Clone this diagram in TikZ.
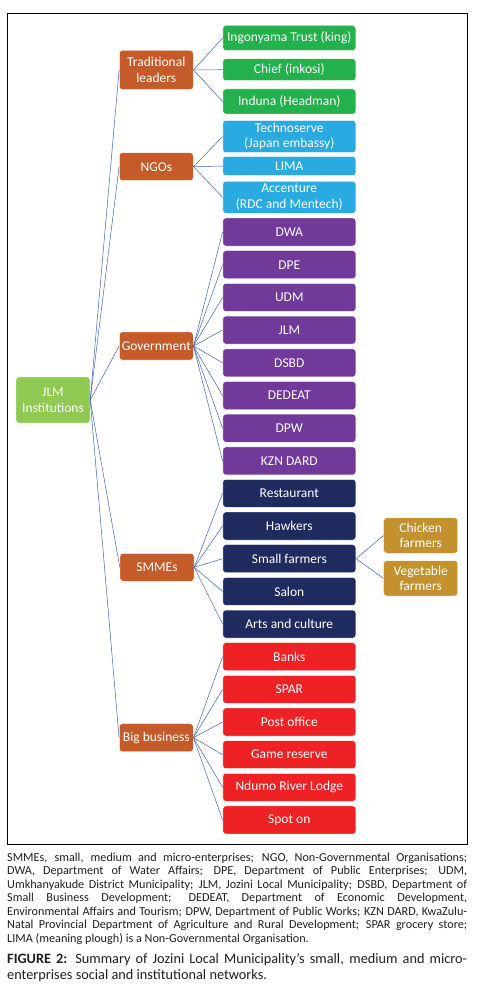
\documentclass[tikz,border=0pt]{standalone}
\usepackage{fontspec}
\setmainfont{Carlito}
\definecolor{rootgreen}{HTML}{8FC951}
\definecolor{catorange}{HTML}{C55B28}
\definecolor{leafgreen}{HTML}{22B14C}
\definecolor{leafblue}{HTML}{29ABE2}
\definecolor{leafpurple}{HTML}{70399A}
\definecolor{leafnavy}{HTML}{1F2A5E}
\definecolor{leafred}{HTML}{EE2124}
\definecolor{leafgold}{HTML}{C3922E}
\definecolor{linkblue}{HTML}{3F64B4}
\definecolor{captext}{HTML}{231F20}

\begin{document}
\begin{tikzpicture}[x=1pt,y=-1pt,
  box/.style={rounded corners=3pt,draw=white,line width=0.4pt,text=white,align=center,inner sep=0pt,font=\fontsize{13.5}{15.5}\selectfont},
  cat/.style={box,fill=catorange,minimum width=74pt,minimum height=28pt},
  leaf/.style={box,minimum width=133pt,minimum height=28pt},
  link/.style={draw=linkblue,line width=0.5pt}]
\useasboundingbox (0,0) rectangle (480,987);
\draw[line width=0.8pt] (7,13.5) rectangle (467,844);

\node[box,fill=rootgreen,minimum width=74pt,minimum height=46pt] (jlm) at (53,400) {JLM\\Institutions};
\node[cat,minimum height=39pt] (trad) at (156.3,70) {Traditional\\leaders};
\node[cat] (ngo) at (156.3,166.7) {NGOs};
\node[cat] (gov) at (156.3,346) {Government};
\node[cat] (smme) at (157,567.3) {SMMEs};
\node[cat] (big) at (156.3,737.7) {Big business};
\foreach \c in {trad,ngo,gov,smme,big}{\draw[link] (jlm.east)--(\c.west);}

\foreach \n/\y/\h/\t in {ing/38/25/{Ingonyama Trust (king)},chief/69.7/22/{Chief (inkosi)},induna/101.5/25/{Induna (Headman)}}{
  \node[leaf,fill=leafgreen,minimum height=\h pt] (\n) at (289.3,\y) {\t};
  \draw[link] (trad.east)--(\n.west);}
\foreach \n/\y/\h/\t in {techno/136.5/32.3/{Technoserve\\(Japan embassy)},lima/166/19.3/{LIMA},accent/197.3/32/{Accenture\\(RDC and Mentech)}}{
  \node[leaf,fill=leafblue,minimum height=\h pt] (\n) at (289.3,\y) {\t};
  \draw[link] (ngo.east)--(\n.west);}
\foreach \t [count=\i from 0] in {DWA,DPE,UDM,JLM,DSBD,DEDEAT,DPW,KZN DARD}{
  \node[leaf,fill=leafpurple] (gov\i) at (289.3,{232+32.7*\i}) {\t};
  \draw[link] (gov.east)--(gov\i.west);}
\foreach \n/\t [count=\i from 0] in {rest/Restaurant,hawk/Hawkers,farm/Small farmers,salon/Salon,arts/Arts and culture}{
  \node[leaf,fill=leafnavy] (\n) at (289.3,{493.3+32.7*\i}) {\t};
  \draw[link] (smme.east)--(\n.west);}
\foreach \t [count=\i from 0] in {Banks,SPAR,Post office,Game reserve,Ndumo River Lodge,Spot on}{
  \node[leaf,fill=leafred] (big\i) at (289.3,{656.7+32.65*\i}) {\t};
  \draw[link] (big.east)--(big\i.west);}

\node[box,fill=leafgold,minimum width=74pt,minimum height=35.5pt] (chicken) at (420.7,535.5) {Chicken\\farmers};
\node[box,fill=leafgold,minimum width=74pt,minimum height=35.5pt] (veg) at (420.7,578.3) {Vegetable\\farmers};
\draw[link] (farm.east)--(chicken.west);
\draw[link] (farm.east)--(veg.west);

\node[anchor=north west,inner sep=0pt,text width=460pt,align=justify,text=captext,font=\fontsize{12.2}{13.55}\selectfont] (abbr) at (7,852.5)
 {SMMEs, small, medium and micro-enterprises; NGO, Non-Governmental Organisations;\linebreak
 DWA, Department of Water Affairs; DPE, Department of Public Enterprises; UDM,\linebreak
 Umkhanyakude District Municipality; JLM, Jozini Local Municipality; DSBD, Department of\linebreak
 Small Business Development; DEDEAT, Department of Economic Development,\linebreak
 Environmental Affairs and Tourism; DPW, Department of Public Works; KZN DARD, KwaZulu-\linebreak
 Natal Provincial Department of Agriculture and Rural Development; SPAR grocery store;\linebreak
 LIMA (meaning plough) is a Non-Governmental Organisation.};
\node[anchor=north west,inner sep=0pt,text width=460pt,align=justify,text=captext,font=\fontsize{14.3}{16}\selectfont] (cap) at (7,953)
 {\textbf{FIGURE 2:} Summary of Jozini Local Municipality's small, medium and micro-\linebreak
 enterprises social and institutional networks.};
\end{tikzpicture}
\end{document}
